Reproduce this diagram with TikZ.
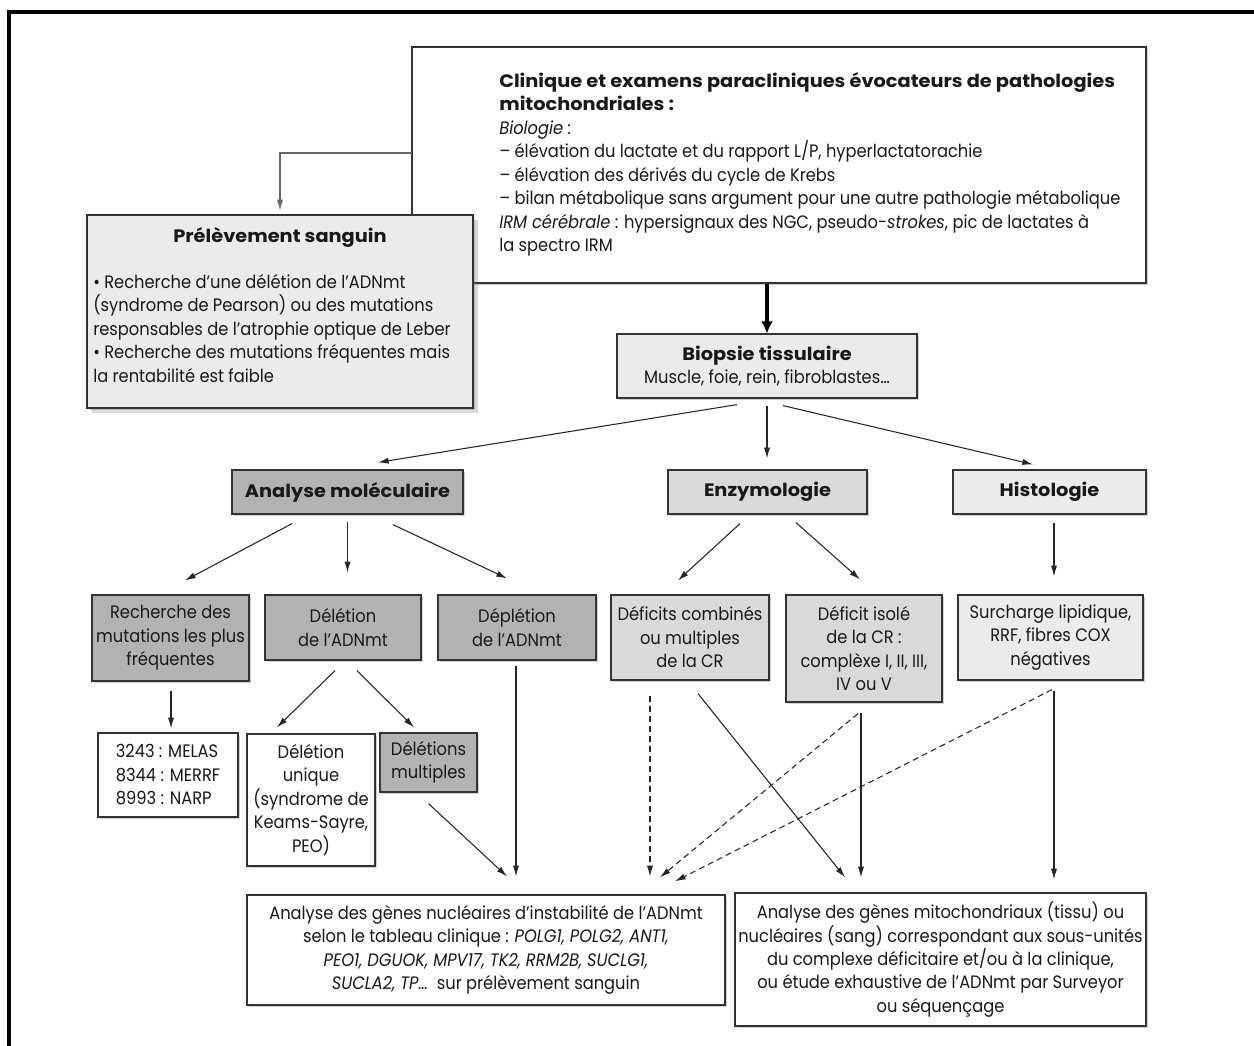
\documentclass[tikz,border=0pt]{standalone}
\usepackage{fontspec}
\setmainfont{Poppins}[FakeStretch=0.905]
\newfontfamily\headfont{Poppins}[FakeStretch=1.075]
\usetikzlibrary{arrows.meta,calc,shadows}

\newcommand\bodysize{\fontsize{13.5}{17.6}\selectfont}
\newcommand\hd{\headfont\bfseries}

\tikzset{
  x=0.75pt, y=-0.75pt,
  wh/.style 2 args={minimum width=#1*0.75pt, minimum height=#2*0.75pt},
  box/.style={rectangle, draw=black!80, line width=0.9pt, inner sep=0pt,
    align=center, font=\bodysize, text=black!90,
    drop shadow={shadow xshift=1.2pt, shadow yshift=-1.2pt, opacity=.3, fill=black!60}},
  dark/.style={box, fill=black!30},
  mid/.style={box, fill=black!15},
  light/.style={box, fill=black!8},
  plain/.style={box, fill=white},
  txt/.style={inner sep=0pt, font=\bodysize, text=black!90},
  arr/.style={draw=black!85, line width=0.8pt, -{Latex[length=8pt,width=4.6pt]}},
  darr/.style={arr, dash pattern=on 4.5pt off 3pt},
}

\begin{document}
\begin{tikzpicture}
\useasboundingbox (0,0) rectangle (1254,1046);

% frame
\draw[line width=2.6pt] (9,1046) -- (9,12) -- (1254,12);

% top box: clinical picture
\node[plain, wh={734}{236}, drop shadow={opacity=0}] (clin) at (779,165) {};
\node[txt, anchor=north west, align=left] (clintxt) at (499,72)
  {{\hd Clinique et examens paracliniques évocateurs de pathologies}\\
   {\hd mitochondriales :}\\
   \textit{Biologie :}\\
   – élévation du lactate et du rapport L/P, hyperlactatorachie\\
   – élévation des dérivés du cycle de Krebs\\
   – bilan métabolique sans argument pour une autre pathologie métabolique\\
   \textit{IRM cérébrale} : hypersignaux des NGC, pseudo-\textit{strokes}, pic de lactates à\\
   la spectro IRM};

% blood sample box
\node[light, wh={386}{193},
  drop shadow={shadow xshift=4pt, shadow yshift=-4pt, opacity=.25, fill=black!60}] (prel) at (280,311.5) {};
\node[txt, font=\bodysize\hd] (preltitle) at (280,237) {Prélèvement sanguin};
\node[txt, anchor=west, align=left] (preltxt) at (93,328.5)
  {• Recherche d’une délétion de l’ADNmt\\
   (syndrome de Pearson) ou des mutations\\
   responsables de l’atrophie optique de Leber\\
   • Recherche des mutations fréquentes mais\\
   la rentabilité est faible};

% tissue biopsy
\node[light, wh={300}{64}] (biop) at (767,366)
  {{\hd Biopsie tissulaire}\\Muscle, foie, rein, fibroblastes…};

% second level
\node[dark, wh={231}{44}, font=\bodysize\hd] (mol) at (347.5,492) {Analyse moléculaire};
\node[mid, wh={199}{44}, font=\bodysize\hd] (enz) at (767.5,492) {Enzymologie};
\node[light, wh={193}{44}, font=\bodysize\hd] (hist) at (1049.5,492) {Histologie};

% third level
\node[dark, wh={157}{86}] (rech) at (170.5,638) {Recherche des\\mutations les plus\\fréquentes};
\node[dark, wh={156}{65}] (del) at (343,627.5) {Délétion\\de l’ADNmt};
\node[dark, wh={158}{65}] (depl) at (517,627.5) {Déplétion\\de l’ADNmt};
\node[mid, wh={158}{85}] (defc) at (690,637.5) {Déficits combinés\\ou multiples\\de la CR};
\node[mid, wh={156}{107}] (defi) at (864,648.5) {Déficit isolé\\de la CR :\\complèxe I, II, III,\\IV ou V};
\node[light, wh={185}{85}] (surc) at (1050.5,637.5) {Surcharge lipidique,\\RRF, fibres COX\\négatives};

% fourth level
\node[plain, wh={140}{84}, align=left] (mel) at (168,775) {3243 : MELAS\\8344 : MERRF\\8993 : NARP};
\node[plain, wh={128}{132}] (uniq) at (311,800) {Délétion\\unique\\(syndrome de\\Keams-Sayre,\\PEO)};
\node[dark, wh={97}{59}] (mult) at (428.5,762.5) {Délétions\\multiples};

% bottom boxes
\node[plain, wh={478}{110}] (nuc) at (486,950)
  {Analyse des gènes nucléaires d’instabilité de l’ADNmt\\
   selon le tableau clinique : \textit{POLG1, POLG2, ANT1,}\\
   \textit{PEO1, DGUOK, MPV17, TK2, RRM2B, SUCLG1,}\\
   \textit{SUCLA2, TP…}\ \ sur prélèvement sanguin};
\node[plain, wh={411}{133}] (mito) at (940.5,959.5)
  {Analyse des gènes mitochondriaux (tissu) ou\\
   nucléaires (sang) correspondant aux sous-unités\\
   du complexe déficitaire et/ou à la clinique,\\
   ou étude exhaustive de l’ADNmt par Surveyor\\
   ou séquençage};

% connectors
\coordinate (clinside) at (412,153);
\draw[arr, draw=black!60] (clinside) -| ($(prel.north)+(0,-4)$);
\draw[draw=black, line width=3pt, -{Latex[length=9pt,width=9pt]}]
  (biop.north |- clin.south) -- (biop.north);

\draw[arr] ($(biop.south)+(-30,6)$) -- ($(mol.north)+(30.5,-7)$);
\draw[arr] ($(biop.south)+(0,7)$) -- ($(biop.south |- enz.north)+(0,-11)$);
\draw[arr] ($(biop.south)+(16,7)$) -- ($(hist.north)+(-16.5,-5)$);

\draw[arr] ($(mol.south)+(-55.5,9)$) -- ($(rech.north)+(14.5,-14)$);
\draw[arr] ($(mol.south)+(0,7)$) -- ($(mol.south |- del.north)+(0,-22)$);
\draw[arr] ($(mol.south)+(45.5,10)$) -- ($(depl.north)+(-10,-16)$);

\draw[arr] ($(enz.south)+(-27.5,9)$) -- ($(defc.north)+(-12,-14)$);
\draw[arr] ($(enz.south)+(28.5,8)$) -- ($(defi.north)+(-4,-15)$);
\draw[arr] ($(hist.south)+(4.5,8)$) -- ($(hist.south |- surc.north)+(4.5,-18)$);

\draw[arr] ($(rech.south)+(0.5,9)$) -- ($(rech.south |- mel.north)+(0.5,-4)$);
\draw[arr] ($(del.south)+(-8,10)$) -- ($(uniq.north)+(-34,-6)$);
\draw[arr] ($(del.south)+(14,10)$) -- ($(mult.north)+(-14.5,-5)$);

\draw[arr] ($(mult.south)+(0,11)$) -- ($(nuc.north)+(21,-18)$);
\draw[arr] ($(depl.south)+(-1,5)$) -- ($(nuc.north)+(30,-18)$);

\draw[darr] ($(defc.south)+(-40,15)$) -- ($(nuc.north)+(164,-18)$);
\draw[darr] ($(defi.south)+(-6,11)$) -- ($(nuc.north)+(174,-17)$);
\draw[darr] ($(surc.south)+(1.5,9)$) -- ($(nuc.north)+(189,-13)$);

\draw[arr] ($(defc.south)+(8,13)$) -- ($(mito.north)+(-95.5,-15)$);
\draw[arr] ($(defi.south)+(-3,10)$) -- ($(defi.south |- mito.north)+(-3,-15)$);
\draw[arr] ($(surc.south)+(3.5,10)$) -- ($(surc.south |- mito.north)+(3.5,-13)$);
\end{tikzpicture}
\end{document}
